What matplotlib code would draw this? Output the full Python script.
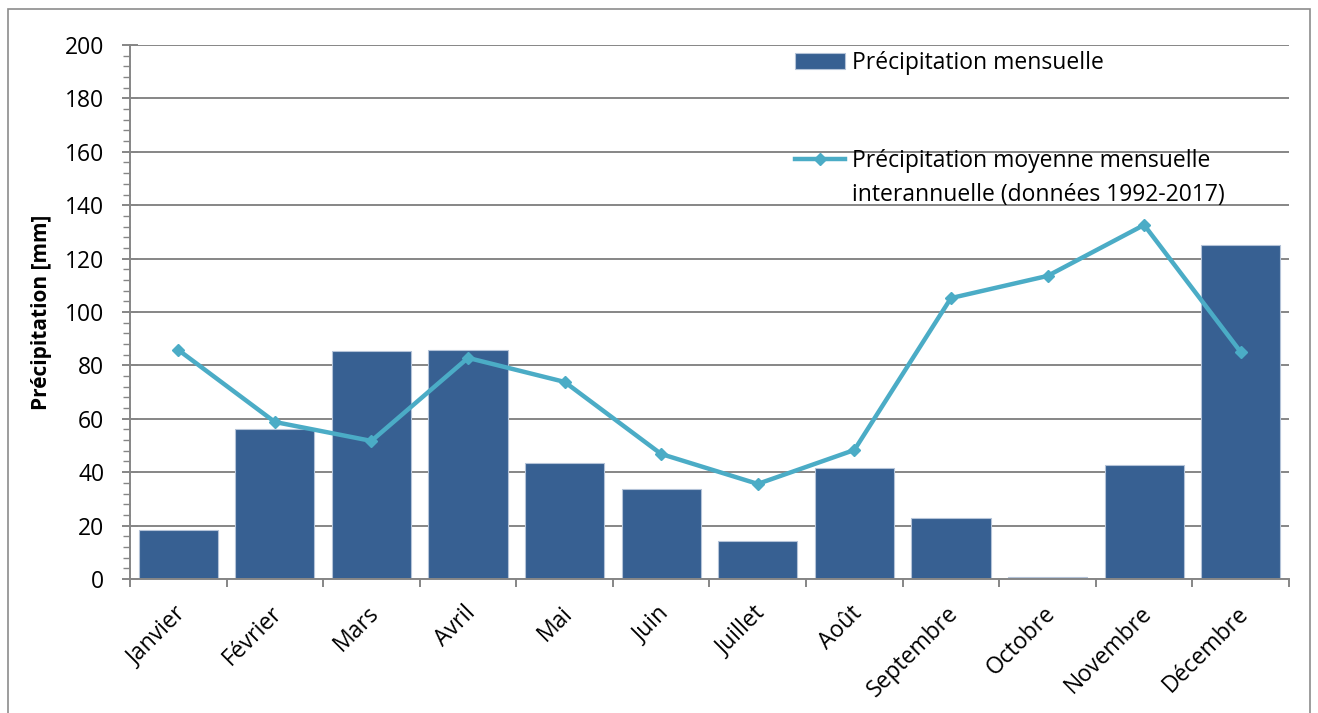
"""
Monthly precipitation vs. interannual monthly mean (1992-2017), bar + line chart.
"""

from __future__ import annotations

import matplotlib

matplotlib.use("Agg")

import matplotlib.pyplot as plt
import matplotlib.transforms as mtransforms
import numpy as np
from matplotlib.lines import Line2D
from matplotlib.ticker import MultipleLocator

MONTHS = [
    "Janvier", "Février", "Mars", "Avril", "Mai", "Juin",
    "Juillet", "Août", "Septembre", "Octobre", "Novembre", "Décembre",
]
MONTHLY_MM = [18.3, 56.2, 85.4, 85.8, 43.4, 33.7, 14.2, 41.6, 22.8, 0.8, 42.7, 125.0]
MEAN_MM = [85.8, 58.8, 51.7, 82.8, 73.8, 46.8, 35.6, 48.3, 105.2, 113.5, 132.6, 85.0]

BAR_LABEL = "Précipitation mensuelle"
LINE_LABEL = ["Précipitation moyenne mensuelle", "interannuelle (données 1992-2017)"]
Y_LABEL = "Précipitation [mm]"

BAR_COLOR = "#376092"
LINE_COLOR = "#4BACC6"
GRID_COLOR = "#868686"
FONT_SIZE = 16.5


def main() -> None:
    plt.rcParams["font.family"] = ["Open Sans", "DejaVu Sans"]
    fig = plt.figure(figsize=(13.18, 7.13), dpi=100)

    # grey outer border like the spreadsheet chart area
    fig.patches.append(
        plt.Rectangle((0.006, -0.01), 0.988, 0.998, transform=fig.transFigure,
                      fill=False, edgecolor="#8c8c8c", linewidth=1.2)
    )

    ax = fig.add_axes([0.0986, 0.188, 0.8794, 0.7489])
    x = np.arange(len(MONTHS))

    bars = ax.bar(x, MONTHLY_MM, width=0.82, color=BAR_COLOR, edgecolor="#b4c3d8",
                  linewidth=0.8, zorder=2)
    (line,) = ax.plot(x, MEAN_MM, color=LINE_COLOR, linewidth=3.2, marker="D",
                      markersize=6, zorder=3)

    ax.set_xlim(-0.5, len(MONTHS) - 0.5)
    ax.set_ylim(0, 200)
    ax.yaxis.set_major_locator(MultipleLocator(20))
    ax.yaxis.set_minor_locator(MultipleLocator(4))
    ax.yaxis.grid(True, which="major", color=GRID_COLOR, linewidth=1.4, zorder=0)
    ax.set_axisbelow(True)

    for side in ("top", "right"):
        ax.spines[side].set_visible(False)
    for side in ("left", "bottom"):
        ax.spines[side].set_color(GRID_COLOR)
        ax.spines[side].set_linewidth(1.4)

    ax.tick_params(axis="y", which="major", direction="inout", length=11, width=1.4,
                   color=GRID_COLOR, labelsize=FONT_SIZE, pad=13)
    ax.tick_params(axis="y", which="minor", length=5, width=1.0, color=GRID_COLOR)

    # category boundary ticks on x, labels at category centres
    ax.set_xticks(np.arange(len(MONTHS) + 1) - 0.5)
    ax.set_xticklabels([])
    ax.tick_params(axis="x", which="major", length=6, width=1.4, color=GRID_COLOR)
    ax.set_xticks(x, minor=True)
    ax.set_xticklabels(MONTHS, minor=True, rotation=45, ha="right", va="center",
                       rotation_mode="anchor", fontsize=FONT_SIZE)
    ax.tick_params(axis="x", which="minor", length=0, pad=0)
    offset = mtransforms.ScaledTranslation(0.04, -0.31, fig.dpi_scale_trans)
    for lab in ax.get_xticklabels(minor=True):
        lab.set_transform(lab.get_transform() + offset)

    ax.set_ylabel(Y_LABEL, fontsize=15, fontweight="bold", labelpad=9)

    legend_kw = dict(bbox_transform=fig.transFigure, frameon=False, fontsize=FONT_SIZE,
                     handlelength=2.2, handletextpad=0.3, borderpad=0, borderaxespad=0)
    leg_bar = ax.legend([bars], [BAR_LABEL], loc="center left",
                        bbox_to_anchor=(795 / 1318, 1 - 63 / 713), **legend_kw)
    ax.add_artist(leg_bar)
    blank = Line2D([], [], linestyle="none")
    ax.legend([line, blank], LINE_LABEL, loc="center left", labelspacing=0.45,
              bbox_to_anchor=(795 / 1318, 1 - 178 / 713), **legend_kw)

    fig.savefig("out.png", dpi=100)


if __name__ == "__main__":
    main()
